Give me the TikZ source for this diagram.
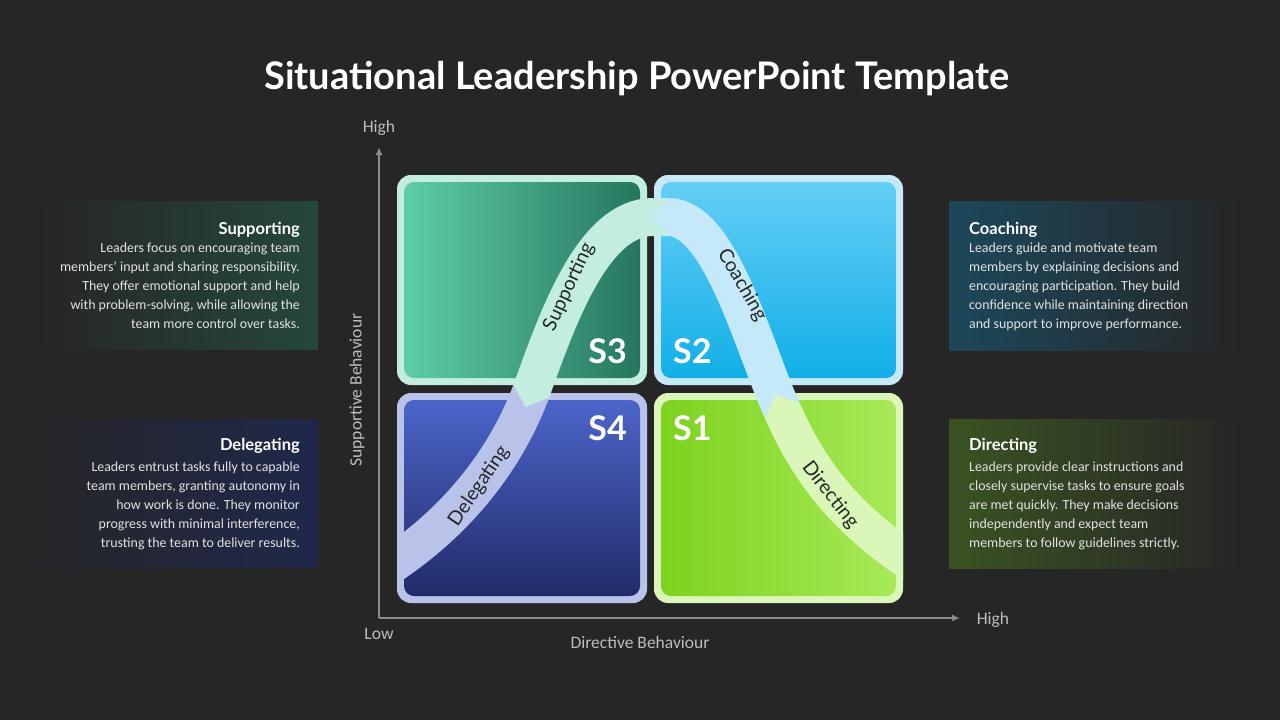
\documentclass[tikz,border=0pt]{standalone}
\usepackage{fontspec}
\setmainfont{Carlito}
\newfontfamily\headfont{Lato}
\usetikzlibrary{arrows.meta}
\definecolor{bgcol}{HTML}{262626}
\definecolor{txtcol}{HTML}{E2E2E2}
\definecolor{axcol}{HTML}{8C8C8C}
\definecolor{axtxt}{HTML}{BDBDBD}
\definecolor{supbox}{HTML}{25473C}
\definecolor{delbox}{HTML}{1F284B}
\definecolor{coabox}{HTML}{1C485B}
\definecolor{dirbox}{HTML}{3A5322}
\definecolor{sthreerim}{HTML}{C2EDE0}
\definecolor{sthreea}{HTML}{5ECDA9}
\definecolor{sthreeb}{HTML}{26765F}
\definecolor{stworim}{HTML}{C6E9FA}
\definecolor{stwoa}{HTML}{63CEF4}
\definecolor{stwob}{HTML}{12AFE8}
\definecolor{sfourrim}{HTML}{B9C3EA}
\definecolor{sfoura}{HTML}{4C65CA}
\definecolor{sfourb}{HTML}{202B68}
\definecolor{sonerim}{HTML}{DAF6B8}
\definecolor{sonea}{HTML}{7DD21E}
\definecolor{soneb}{HTML}{A7E958}
\begin{document}
\begin{tikzpicture}[x=1pt,y=-1pt,
    titletxt/.style={font=\headfont\bfseries\fontsize{38}{44}\selectfont, text=white, inner sep=0pt},
    headtxt/.style={font=\headfont\bfseries\fontsize{16.5}{19}\selectfont, text=white, inner sep=0pt},
    desc/.style={font=\fontsize{13.9}{19}\selectfont, text=txtcol, inner sep=0pt},
    axislbl/.style={font=\fontsize{17.5}{20}\selectfont, text=axtxt, inner sep=0pt},
    bandlbl/.style={font=\headfont\fontsize{19.5}{22}\selectfont, text=black!85, inner sep=0pt},
    slbl/.style={font=\headfont\bfseries\fontsize{34}{36}\selectfont, text=white, inner sep=0pt},
    axisline/.style={draw=axcol, line width=2pt, -{Latex[length=8pt,width=7pt]}},
    band/.style={line width=38pt, line cap=butt}]
  \fill[bgcol] (0,0) rectangle (1280,720);

  \node[titletxt] (title) at (637,79) {Situational Leadership PowerPoint Template};

  \shade[left color=bgcol, right color=supbox] (40,201) rectangle (318,349);
  \shade[left color=bgcol, right color=delbox] (20,419) rectangle (318,567);
  \shade[left color=coabox, right color=bgcol] (949,201) rectangle (1240,350);
  \shade[left color=dirbox, right color=bgcol] (949,419) rectangle (1240,568);

  \node[headtxt, anchor=base east] (suphead) at (300,234) {Supporting};
  \node[desc, anchor=north east, align=right] (suptxt) at (300,243)
    {Leaders focus on encouraging team\\members’ input and sharing responsibility.\\They offer emotional support and help\\with problem-solving, while allowing the\\team more control over tasks.};
  \node[headtxt, anchor=base east] (delhead) at (300,450) {Delegating};
  \node[desc, anchor=north east, align=right] (deltxt) at (300,462)
    {Leaders entrust tasks fully to capable\\team members, granting autonomy in\\how work is done. They monitor\\progress with minimal interference,\\trusting the team to deliver results.};
  \node[headtxt, anchor=base west] (coahead) at (969,234) {Coaching};
  \node[desc, anchor=north west, align=left] (coatxt) at (969,243)
    {Leaders guide and motivate team\\members by explaining decisions and\\encouraging participation. They build\\confidence while maintaining direction\\and support to improve performance.};
  \node[headtxt, anchor=base west] (dirhead) at (969,450) {Directing};
  \node[desc, anchor=north west, align=left] (dirtxt) at (969,462)
    {Leaders provide clear instructions and\\closely supervise tasks to ensure goals\\are met quickly. They make decisions\\independently and expect team\\members to follow guidelines strictly.};

  \coordinate (orig) at (379,618);
  \coordinate (ytip) at (379,147);
  \coordinate (xtip) at (960,618);
  \draw[axisline] (orig) -- (ytip);
  \draw[axisline] (orig) -- (xtip);
  \node[axislbl] (yhigh) at (379,128) {High};
  \node[axislbl] (xlow) at (379,634) {Low};
  \node[axislbl] (xhigh) at (993,620) {High};
  \node[axislbl] (xname) at (640,642) {Directive Behaviour};
  \node[axislbl, rotate=90] (yname) at (357,390) {Supportive Behaviour};

  \fill[sthreerim, rounded corners=14pt] (397,175) rectangle (647,385);
  \shade[left color=sthreea, right color=sthreeb, rounded corners=10pt] (404,182) rectangle (640,378);
  \fill[stworim, rounded corners=14pt] (654,175) rectangle (903,385);
  \shade[top color=stwoa, bottom color=stwob, rounded corners=10pt] (661,182) rectangle (896,378);
  \fill[sfourrim, rounded corners=14pt] (397,393) rectangle (647,603);
  \shade[top color=sfoura, bottom color=sfourb, rounded corners=10pt] (404,400) rectangle (640,596);
  \fill[sonerim, rounded corners=14pt] (654,393) rectangle (903,603);
  \shade[left color=sonea, right color=soneb, rounded corners=10pt] (661,400) rectangle (896,596);

  \node[slbl, anchor=east] (sthree) at (627,351) {S3};
  \node[slbl, anchor=west] (stwo) at (673,351) {S2};
  \node[slbl, anchor=east] (sfour) at (627,428) {S4};
  \node[slbl, anchor=west] (sone) at (673,428) {S1};

  \begin{scope}
    \clip (397,0) rectangle (903,720);
    \draw[band, sfourrim] (380,572) .. controls (466,518) and (510,448) .. (531,392);
    \draw[band, sthreerim] (531,392) .. controls (558,317) and (593,217) .. (653,217) -- (668,217);
    \draw[band, stworim] (668,217) .. controls (720,217) and (751.5,341.5) .. (782,410);
    \draw[band, sonerim] (782,410) .. controls (806.4,464.8) and (840,518) .. (926,572);
    \fill[sthreerim] (549.3,397.6) -- (525.5,407) -- (513.5,384.6) -- cycle;
    \fill[stworim] (669,198) -- (652,217) -- (669,236) -- cycle;
    \fill[sonerim] (800.0,403.0) -- (775.5,395.4) -- (765.2,418.4) -- cycle;
  \end{scope}

  \node[bandlbl, rotate=56] (ldel) at (479,486) {Delegating};
  \node[bandlbl, rotate=65] (lsup) at (569,287) {Supporting};
  \node[bandlbl, rotate=-60] (lcoa) at (742,285) {Coaching};
  \node[bandlbl, rotate=-52] (ldir) at (830,495) {Directing};
\end{tikzpicture}
\end{document}
